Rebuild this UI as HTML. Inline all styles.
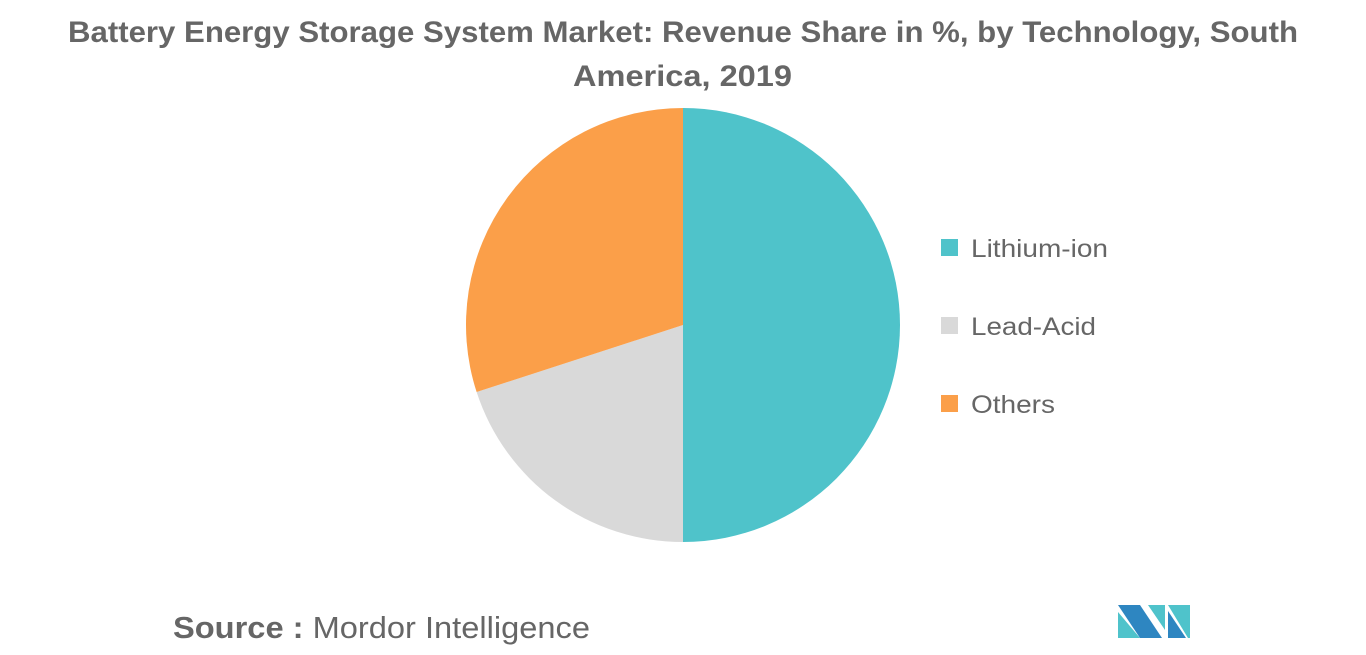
<!DOCTYPE html>
<html><head><meta charset="utf-8"><style>
body{margin:0;width:1366px;height:655px;background:#fff;overflow:hidden;font-family:"Liberation Sans",sans-serif;}
#c{position:absolute;left:0;top:0;}
</style></head><body>
<svg id="c" width="1366" height="655">
<text x="68" y="42" textLength="1230" lengthAdjust="spacingAndGlyphs" font-size="30" font-weight="bold" fill="#666">Battery Energy Storage System Market: Revenue Share in %, by Technology, South</text>
<text x="573" y="86" textLength="219" lengthAdjust="spacingAndGlyphs" font-size="30" font-weight="bold" fill="#666">America, 2019</text>
<g id="pie"></g>
<g id="legend"></g>
<text x="173" y="638" textLength="417" lengthAdjust="spacingAndGlyphs" font-size="31" fill="#666"><tspan font-weight="bold">Source :</tspan> Mordor Intelligence</text>
<g>
<polygon points="1118,605 1140,605 1162,638 1140,638" fill="#2e86c1"/>
<polygon points="1118,612 1140,638 1118,638" fill="#4fc3cb"/>
<polygon points="1148,605 1165,605 1165,630" fill="#4fc3cb"/>
<polygon points="1168,605 1190,605 1190,638 1188,638" fill="#4fc3cb"/>
<polygon points="1168,611 1186,638 1168,638" fill="#2e86c1"/>
</g>
</svg>
<script>
const categories=["Lithium-ion","Lead-Acid","Others"];
const values=[50,20,30];
const colors=["#4fc3ca","#d9d9d9","#fb9f49"];
const labelWidths=[137,125,84];
const cx=683,cy=325,r=217;
const ns="http://www.w3.org/2000/svg";
const pie=document.getElementById('pie');
const total=values.reduce((a,b)=>a+b,0);
let a0=0;
function pt(a){return [cx+r*Math.sin(a),cy-r*Math.cos(a)];}
values.forEach((v,i)=>{
  const a1=a0+v/total*2*Math.PI;
  const p0=pt(a0),p1=pt(a1);
  const p=document.createElementNS(ns,'path');
  p.setAttribute('d',`M${cx},${cy}L${p0[0]},${p0[1]}A${r},${r} 0 ${a1-a0>Math.PI?1:0} 1 ${p1[0]},${p1[1]}Z`);
  p.setAttribute('fill',colors[i]);
  
  
  pie.appendChild(p);
  a0=a1;
});
const lg=document.getElementById('legend');
categories.forEach((c,i)=>{
  const y=248+i*78;
  const s=document.createElementNS(ns,'rect');
  s.setAttribute('x',941);s.setAttribute('y',y-9);s.setAttribute('width',17);s.setAttribute('height',17);
  s.setAttribute('fill',colors[i]);
  
  
  lg.appendChild(s);
  const t=document.createElementNS(ns,'text');
  t.setAttribute('x',971);t.setAttribute('y',y+9);t.setAttribute('font-size',25);t.setAttribute('fill','#666');
  t.setAttribute('textLength',labelWidths[i]);t.setAttribute('lengthAdjust','spacingAndGlyphs');
  t.textContent=c;
  
  
  lg.appendChild(t);
});
</script>
</body></html>
